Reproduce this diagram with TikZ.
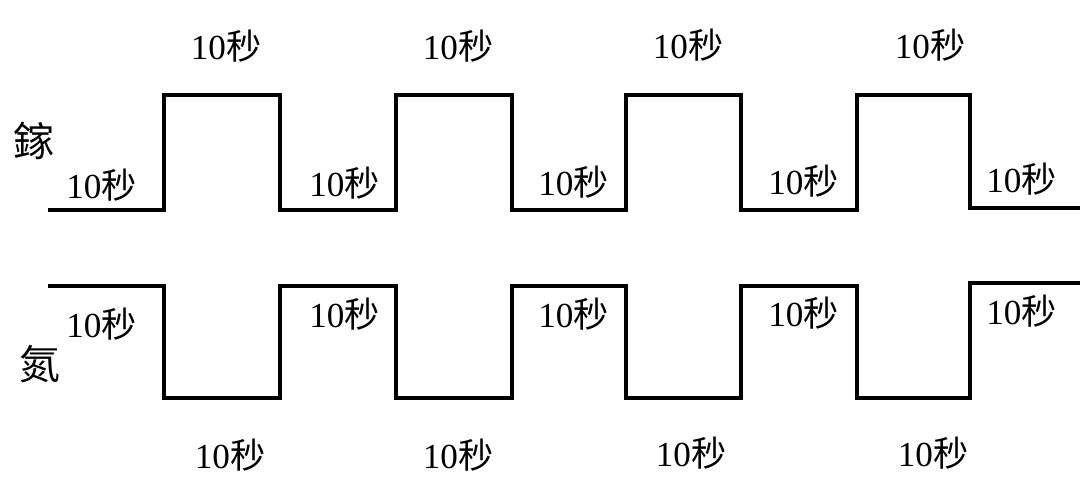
\documentclass[tikz,border=0pt]{standalone}
\usepackage{fontspec}
\setmainfont{Liberation Serif}
\newfontfamily\cjk{Noto Sans CJK TC}
\usepackage{tikz}
\newcommand{\tensec}{10{\cjk 秒}}

\begin{document}
\begin{tikzpicture}[
  x=0.025cm, y=-0.025cm,
  wave/.style={line width=2.2pt, line join=miter, line cap=butt},
  lab/.style={font=\fontsize{25}{30}\selectfont, inner sep=0pt},
  elem/.style={font=\cjk\fontsize{29}{34}\selectfont, inner sep=0pt}
]
\useasboundingbox (0,0) rectangle (1080,494);

% Element names
\node[elem] (ga) at (34,141) {鎵};
\node[elem] (nit) at (40,364) {氮};

% Gallium pulse train
\draw[wave] (48,210) -| (164,95) -| (280,210) -| (396,95) -| (512,210)
  -| (626,95) -| (741,210) -| (857,95) -| (970,208) -- (1080,208);

% Nitrogen pulse train
\draw[wave] (48,286) -| (164,398) -| (280,286) -| (396,398) -| (512,286)
  -| (626,398) -| (741,286) -| (857,398) -| (970,283) -- (1080,283);

% Durations above the gallium pulses
\node[lab] (gaHigh1) at (226,46) {\tensec};
\node[lab] (gaHigh2) at (458,46) {\tensec};
\node[lab] (gaHigh3) at (688,45) {\tensec};
\node[lab] (gaHigh4) at (930,45) {\tensec};

% Durations of the gallium pauses
\node[lab, anchor=west] (gaLow1) at (66,185) {\tensec};
\node[lab, anchor=west] (gaLow2) at (309,183) {\tensec};
\node[lab, anchor=west] (gaLow3) at (538,182) {\tensec};
\node[lab, anchor=west] (gaLow4) at (768,181) {\tensec};
\node[lab, anchor=west] (gaLow5) at (986,179) {\tensec};

% Durations of the nitrogen pulses
\node[lab, anchor=west] (nHigh1) at (66,324) {\tensec};
\node[lab, anchor=west] (nHigh2) at (309,314) {\tensec};
\node[lab, anchor=west] (nHigh3) at (538,314) {\tensec};
\node[lab, anchor=west] (nHigh4) at (768,313) {\tensec};
\node[lab, anchor=west] (nHigh5) at (986,311) {\tensec};

% Durations below the nitrogen pauses
\node[lab] (nLow1) at (230,455) {\tensec};
\node[lab] (nLow2) at (458,455) {\tensec};
\node[lab] (nLow3) at (691,453) {\tensec};
\node[lab] (nLow4) at (933,453) {\tensec};

\end{tikzpicture}
\end{document}
